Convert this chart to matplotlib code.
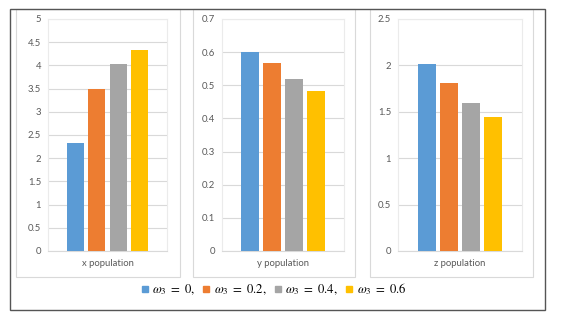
import matplotlib
matplotlib.use("Agg")
import matplotlib.pyplot as plt
from matplotlib.patches import Rectangle
from matplotlib.lines import Line2D

W, H = 562, 319

panels = ["x population", "y population", "z population"]
series_labels = [r"$\omega_3\ =\ 0,$", r"$\omega_3\ =\ 0.2,$", r"$\omega_3\ =\ 0.4,$", r"$\omega_3\ =\ 0.6$"]
colors = ["#5B9BD5", "#ED7D31", "#A5A5A5", "#FFC000"]
x_vals = [2.33, 3.50, 4.02, 4.34]
y_vals = [0.601, 0.566, 0.520, 0.483]
z_vals = [2.02, 1.81, 1.59, 1.44]
values = [x_vals, y_vals, z_vals]
ymax = [5, 0.7, 2.5]
ysteps = [0.5, 0.1, 0.5]
yticklabels = [
    ["0", "0.5", "1", "1.5", "2", "2.5", "3", "3.5", "4", "4.5", "5"],
    ["0", "0.1", "0.2", "0.3", "0.4", "0.5", "0.6", "0.7"],
    ["0", "0.5", "1", "1.5", "2", "2.5"],
]

plt.rcParams["font.family"] = ["Lato", "DejaVu Sans"]
plt.rcParams["mathtext.fontset"] = "stix"

fig = plt.figure(figsize=(W / 100, H / 100), dpi=100)
fig.patch.set_facecolor("white")

def frac_rect(x0, y0, x1, y1):
    return [x0 / W, (H - y1) / H, (x1 - x0) / W, (y1 - y0) / H]

# panel boxes
panel_boxes = [(16, 180), (193, 355), (370, 533)]
for (a, b) in panel_boxes:
    fig.patches.append(Rectangle((a / W, (H - 277) / H), (b - a) / W, (277 - 9) / H,
                                 transform=fig.transFigure, fill=False,
                                 edgecolor="#D9D9D9", lw=0.8))
# outer frame
fig.patches.append(Rectangle((10 / W, (H - 310) / H), (545 - 10) / W, (310 - 9) / H,
                             transform=fig.transFigure, fill=False,
                             edgecolor="#555555", lw=1.0, zorder=5))

plot_areas = [(48, 167), (222, 344), (398, 522)]
width = 0.145
step = 0.18
for i, (a, b) in enumerate(plot_areas):
    ax = fig.add_axes(frac_rect(a, 19, b, 251))
    n = len(values[i])
    for j, v in enumerate(values[i]):
        off = (j - (n - 1) / 2) * step
        ax.bar(off, v, width=width, color=colors[j], zorder=3)
    ax.set_xlim(-0.5, 0.5)
    ax.set_ylim(0, ymax[i])
    ticks = [k * ysteps[i] for k in range(len(yticklabels[i]))]
    ax.set_yticks(ticks)
    ax.set_yticklabels(yticklabels[i])
    ax.set_xticks([0])
    ax.set_xticklabels([panels[i]])
    ax.tick_params(axis="both", length=0, labelsize=6.8, colors="#595959")
    ax.tick_params(axis="y", pad=5)
    ax.tick_params(axis="x", pad=6)
    ax.grid(axis="y", color="#D9D9D9", lw=0.8, zorder=0)
    for s in ax.spines.values():
        s.set_color("#EBEBEB")
        s.set_linewidth(0.8)
    ax.spines["bottom"].set_color("#D9D9D9")

handles = [Line2D([], [], marker="s", linestyle="none", markersize=5,
                  markerfacecolor=c, markeredgecolor=c) for c in colors]
fig.legend(handles, series_labels, loc="center", bbox_to_anchor=(273 / W, (H - 289) / H),
           ncol=4, frameon=False, fontsize=9.2, handletextpad=0.2, columnspacing=0.45,
           handlelength=0.8, borderpad=0)

fig.savefig("out.png", dpi=100)
